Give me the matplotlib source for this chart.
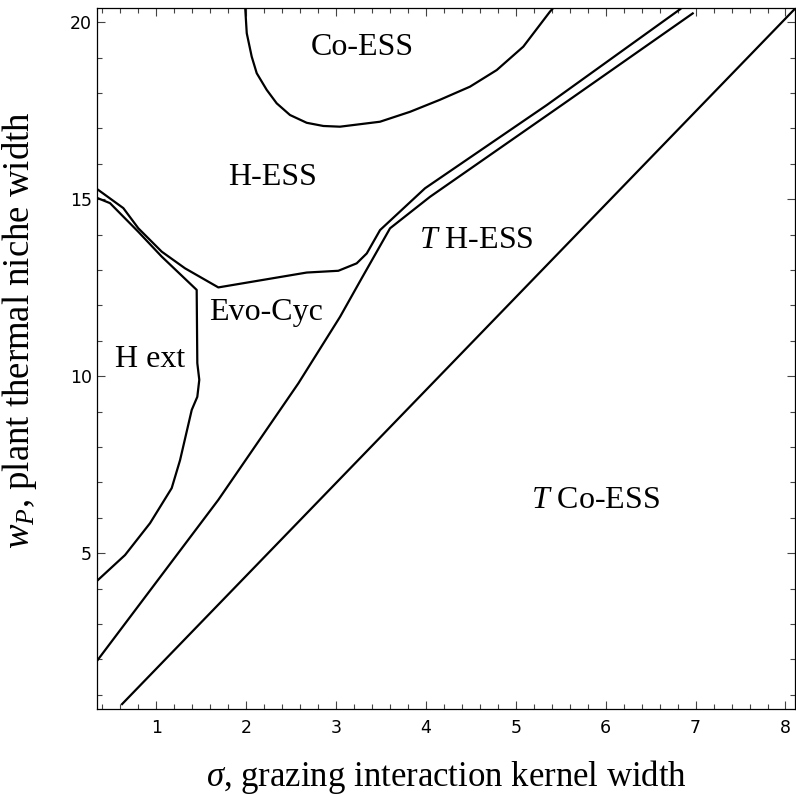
import matplotlib
matplotlib.use("Agg")
import matplotlib.pyplot as plt
from matplotlib.ticker import MultipleLocator

plt.rcParams['mathtext.fontset'] = 'custom'
plt.rcParams['mathtext.rm'] = 'Liberation Serif'
plt.rcParams['mathtext.it'] = 'Liberation Serif:italic'

# boundary curves (sigma, wP)
coess_x = [1.990, 2.007, 2.062, 2.118, 2.229, 2.340, 2.488, 2.674, 2.859, 3.044,
           3.489, 3.823, 4.156, 4.490, 4.788, 5.083, 5.380, 5.414]
coess_y = [20.395, 19.69, 19.03, 18.56, 18.09, 17.71, 17.38, 17.16, 17.07, 17.05,
           17.19, 17.47, 17.81, 18.18, 18.65, 19.31, 20.30, 20.395]

hess_x = [0.341, 0.634, 0.801, 1.061, 1.320, 1.691, 2.674, 3.026, 3.230, 3.342, 3.490, 3.990, 5.344, 6.829]
hess_y = [15.29, 14.75, 14.18, 13.52, 13.05, 12.51, 12.93, 12.98, 13.19, 13.47, 14.13, 15.31, 17.66, 20.37]

hext_x = [0.341, 0.486, 0.801, 1.061, 1.450, 1.457, 1.479, 1.457, 1.395, 1.265, 1.172, 0.931, 0.653, 0.341]
hext_y = [15.04, 14.89, 14.08, 13.38, 12.44, 10.37, 9.90, 9.42, 9.05, 7.63, 6.84, 5.85, 4.95, 4.22]

thess_x = [0.341, 1.691, 2.581, 3.045, 3.286, 3.601, 4.046, 5.528, 6.968]
thess_y = [1.96, 6.51, 9.80, 11.68, 12.77, 14.18, 15.07, 17.69, 20.25]

tco_x = [0.62, 8.12]
tco_y = [0.74, 20.42]

region_labels = ["Co-ESS", "H-ESS", r"$T$ H-ESS", "Evo-Cyc", "H ext", r"$T$ Co-ESS"]
label_x = [3.298, 2.299, 4.565, 2.219, 0.934, 5.883]
label_y = [19.08, 15.40, 13.62, 11.60, 10.27, 6.28]


def main():
    fig = plt.figure(figsize=(7.96, 7.95), dpi=100)
    ax = fig.add_axes([0.1219, 0.1078, 0.8771, 0.8818])

    for xs, ys in [(coess_x, coess_y), (hess_x, hess_y), (hext_x, hext_y),
                   (thess_x, thess_y), (tco_x, tco_y)]:
        ax.plot(xs, ys, color='black', lw=1.6)

    for txt, x, y in zip(region_labels, label_x, label_y):
        ax.text(x, y, txt, ha='center', va='baseline', fontsize=23,
                family='Liberation Serif')

    ax.set_xlim(0.3415, 8.108)
    ax.set_ylim(0.593, 20.395)

    ax.xaxis.set_major_locator(MultipleLocator(1))
    ax.xaxis.set_minor_locator(MultipleLocator(0.2))
    ax.yaxis.set_major_locator(MultipleLocator(5))
    ax.yaxis.set_minor_locator(MultipleLocator(1))
    ax.tick_params(which='both', direction='in', top=True, right=True,
                   labelsize=12.5, color='#444444', width=0.8)
    ax.tick_params(which='major', length=6)
    ax.tick_params(which='minor', length=3.5)
    ax.tick_params(axis='x', which='major', pad=7)
    for sp in ax.spines.values():
        sp.set_linewidth(0.9)

    ax.set_xlabel(r"$\sigma$, grazing interaction kernel width",
                  family='Liberation Serif', fontsize=25, labelpad=15)
    ax.set_ylabel(r"$w_P$, plant thermal niche width",
                  family='Liberation Serif', fontsize=26.5)
    ax.yaxis.set_label_coords(-0.083, 0.541)

    fig.savefig("out.png", dpi=100)
    plt.close(fig)


if __name__ == "__main__":
    main()
